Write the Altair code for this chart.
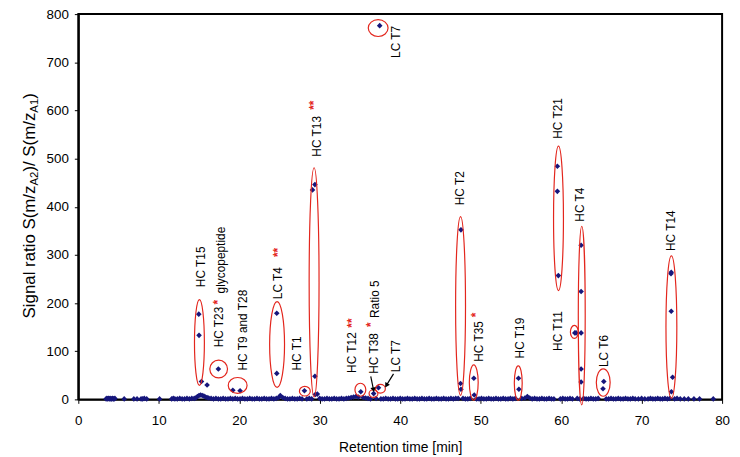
import math
import altair as alt
import pandas as pd

# ---------------- data ----------------
# baseline (unlabelled) peptides: (retention time, ratio)
base_points = [
    (3.45, 1), (3.55, 2), (3.65, 1), (3.75, 2), (3.85, 1), (3.95, 2), (4.05, 1), (4.15, 1),
    (4.25, 2), (4.35, 1), (4.45, 1), (4.55, 2), (5.7, 1), (6.9, 1), (7.3, 1), (7.8, 1),
    (8.0, 1), (8.2, 2), (8.5, 1), (10.1, 1), (11.6, 1), (11.8, 2), (12.0, 1), (12.3, 1),
    (12.6, 2), (12.9, 1), (13.2, 1), (13.5, 2), (13.8, 1), (14.1, 2), (14.4, 2), (14.6, 3),
    (14.8, 6), (15.0, 8), (15.2, 9), (15.4, 8), (15.6, 7), (15.8, 5), (16.0, 4), (16.2, 3),
    (16.5, 2), (16.8, 1), (17.1, 2), (17.4, 1), (17.7, 1), (18.0, 2), (18.3, 1), (18.6, 1),
    (18.9, 2), (19.2, 1), (19.5, 2), (19.8, 1), (20.1, 1), (20.4, 2), (20.7, 1), (21.0, 1),
    (21.3, 2), (21.6, 1), (21.9, 1), (22.2, 2), (22.5, 1), (22.8, 1), (23.1, 2), (23.4, 1),
    (23.7, 1), (24.0, 2), (24.3, 1), (24.6, 2), (24.9, 4), (25.1, 8), (25.4, 4), (25.7, 2),
    (26.0, 1), (26.3, 1), (26.6, 2), (26.9, 1), (27.2, 1), (27.5, 2), (27.8, 1), (28.4, 1),
    (28.7, 2), (29.0, 1), (29.7, 11), (30.0, 2), (30.3, 1), (30.6, 1), (30.9, 2), (31.2, 1),
    (31.5, 1), (31.8, 2), (32.1, 1), (32.4, 1), (32.7, 2), (33.0, 1), (33.3, 2), (33.6, 3),
    (33.9, 4), (34.2, 5), (34.5, 6), (34.8, 5), (35.4, 4), (35.7, 3), (36.0, 2), (36.3, 1),
    (37.0, 2), (37.6, 1), (37.9, 1), (38.2, 2), (38.5, 1), (38.8, 1), (39.1, 2), (39.4, 1),
    (39.7, 1), (40.0, 2), (40.3, 1), (40.6, 1), (40.9, 2), (41.2, 1), (41.5, 1), (41.8, 2),
    (42.1, 1), (42.4, 1), (42.7, 2), (43.0, 1), (43.3, 1), (43.6, 2), (43.9, 1), (44.2, 1),
    (44.5, 2), (44.8, 1), (45.1, 1), (45.4, 2), (45.7, 1), (46.0, 1), (46.3, 2), (46.6, 1),
    (46.9, 2), (47.2, 2), (47.8, 2), (48.1, 1), (48.4, 1), (48.7, 2), (49.5, 1), (49.8, 1),
    (50.1, 2), (50.4, 1), (50.7, 1), (51.0, 2), (51.3, 1), (51.6, 1), (51.9, 2), (52.2, 1),
    (52.5, 1), (52.8, 2), (53.1, 1), (53.4, 1), (53.7, 2), (54.0, 1), (54.3, 2), (55.1, 2),
    (55.5, 3), (55.8, 6), (56.1, 3), (56.4, 1), (56.7, 2), (57.0, 1), (57.3, 1), (57.6, 2),
    (57.9, 1), (58.2, 1), (58.5, 2), (58.8, 1), (59.1, 1), (59.9, 1), (60.2, 2), (60.5, 1),
    (60.8, 1), (61.1, 2), (61.4, 1), (62.0, 2), (62.3, 1), (62.8, 2), (63.1, 1), (63.4, 1),
    (63.7, 2), (64.0, 1), (64.3, 1), (64.6, 2), (65.6, 1), (65.9, 1), (66.2, 2), (66.5, 1),
    (66.8, 1), (67.1, 2), (67.4, 1), (67.7, 1), (68.0, 2), (68.3, 1), (68.6, 1), (68.9, 2),
    (69.2, 1), (69.6, 1), (70.0, 2), (70.4, 1), (70.8, 1), (71.1, 2), (71.4, 1), (71.7, 1),
    (72.0, 2), (72.3, 1), (72.6, 1), (72.9, 2), (73.2, 1), (73.5, 2), (74.1, 1), (74.4, 2),
    (74.8, 1), (75.3, 1), (75.8, 1), (76.5, 1), (77.2, 1), (78.9, 1),
]

# labelled peptide points
peak_time = [14.97, 15.0, 15.3, 16.0, 17.4, 19.2, 20.1, 24.66, 24.66, 28.1,
             29.1, 29.4, 29.4, 29.45, 35.1, 36.7, 37.3, 37.45, 47.55, 47.5,
             47.55, 49.15, 49.2, 54.7, 54.75, 59.53, 59.53, 59.65, 62.48, 62.48,
             62.48, 62.48, 62.48, 61.7, 61.85, 65.3, 65.2, 73.68, 73.65, 73.68,
             73.85, 73.7]
peak_ratio = [177, 133, 37, 30, 63, 19, 18, 179, 54, 18,
              435, 446, 48, 10, 16, 12, 24, 776, 352, 33,
              21, 44, 9, 44, 21, 484, 432, 257, 320, 224,
              138, 63, 36, 138, 138, 37, 22, 264, 261, 183,
              46, 16]

# red ellipses around peptide groups (centre, full width [min], full height [ratio])
ell_time = [15.05, 17.44, 19.8, 24.7, 28.15, 29.3, 35.05, 36.68, 37.54, 37.26,
            47.5, 49.14, 54.67, 59.67, 61.64, 62.56, 65.23, 73.7]
ell_ratio = [118, 63, 29, 114, 17, 243, 20, 12, 22, 771,
             194, 35, 34, 376, 140, 174, 35, 150]
ell_w = [1.23, 2.2, 2.34, 1.85, 1.35, 1.23, 1.35, 1.1, 1.23, 2.46,
         1.23, 1.1, 0.98, 1.23, 0.98, 0.86, 1.72, 1.35]
ell_h = [178, 37, 33, 178, 20, 476, 27, 16, 18, 35,
         371, 73, 71, 300, 27, 371, 57, 296]

# peptide labels (bottom of rotated text)
labels = ["HC T15", "HC T23", "glycopeptide", "HC T9 and T28", "LC T4", "HC T1",
          "HC T13", "HC T12", "HC T38", "Ratio 5", "LC T7", "LC T7", "HC T2",
          "HC T35", "HC T19", "HC T11", "HC T21", "HC T4", "LC T6", "HC T14"]
label_time = [15.26, 17.54, 17.72, 20.5, 24.85, 27.2, 29.66, 34.03, 36.8, 36.92,
              39.5, 39.45, 47.47, 49.8, 54.85, 59.67, 59.63, 62.3, 65.3, 73.64]
label_ratio = [233, 108, 220, 60, 208, 60, 504, 55, 53, 169,
               56.5, 709, 403, 78, 85, 100.6, 541, 369, 67, 308]

# red significance asterisks
ast_text = ["*", "**", "**", "**", "*", "*"]
ast_time = [17.42, 24.81, 29.31, 34.04, 36.41, 49.45]
ast_ratio = [202, 305, 611, 158.6, 155, 175.5]

# arrows (start -> end)
arr_t1 = [36.34, 39.17]
arr_r1 = [48, 53]
arr_t2 = [36.68, 38.28]
arr_r2 = [20, 29]

x_ticks = [0, 10, 20, 30, 40, 50, 60, 70, 80]
y_ticks = [0, 100, 200, 300, 400, 500, 600, 700, 800]

# ---------------- layout ----------------
W, H = 650, 389
XMAX, YMAX = 80, 800
pxm = W / XMAX
pyu = H / YMAX
FONT = "Liberation Sans"
NAVY = "#16167c"
RED = "#e3261d"

xs = alt.Scale(domain=[0, XMAX], nice=False, zero=False)
ys = alt.Scale(domain=[0, YMAX], nice=False, zero=False)

pts = pd.DataFrame({
    "t": [p[0] for p in base_points] + peak_time,
    "r": [p[1] for p in base_points] + peak_ratio,
})

points = alt.Chart(pts).mark_point(shape="diamond", filled=True, size=32, opacity=1).encode(
    x=alt.X("t:Q", scale=xs,
            axis=alt.Axis(values=x_ticks, title="Retention time [min]", labelFlush=False,
                          labelPadding=10, titlePadding=14, tickSize=4)),
    y=alt.Y("r:Q", scale=ys,
            axis=alt.Axis(values=y_ticks, title=None, labelFlush=False,
                          labelPadding=6, tickSize=4)),
    color=alt.value(NAVY),
)

# ellipses as custom-path symbols
K = 0.5523


def ellipse_path(rx, ry):
    return (f"M {-rx:.4f} 0 C {-rx:.4f} {-K*ry:.4f} {-K*rx:.4f} {-ry:.4f} 0 {-ry:.4f} "
            f"C {K*rx:.4f} {-ry:.4f} {rx:.4f} {-K*ry:.4f} {rx:.4f} 0 "
            f"C {rx:.4f} {K*ry:.4f} {K*rx:.4f} {ry:.4f} 0 {ry:.4f} "
            f"C {-K*rx:.4f} {ry:.4f} {-rx:.4f} {K*ry:.4f} {-rx:.4f} 0 Z")


eids, paths, sizes = [], [], []
for i, (w, h) in enumerate(zip(ell_w, ell_h)):
    wp, hp = w * pxm, h * pyu
    s = max(wp, hp)
    eids.append(f"e{i}")
    paths.append(ellipse_path(wp / s, hp / s))
    sizes.append(s * s)

ell_df = pd.DataFrame({"t": ell_time, "r": ell_ratio, "eid": eids, "sz": sizes})
ellipses = alt.Chart(ell_df).mark_point(filled=False, strokeWidth=1.2, opacity=1).encode(
    x=alt.X("t:Q", scale=xs),
    y=alt.Y("r:Q", scale=ys),
    shape=alt.Shape("eid:N", scale=alt.Scale(domain=eids, range=paths), legend=None),
    size=alt.Size("sz:Q", scale=None, legend=None),
    color=alt.value(RED),
)

lab_df = pd.DataFrame({"t": label_time, "r": label_ratio, "txt": labels})
label_layer = alt.Chart(lab_df).mark_text(
    angle=270, align="left", baseline="middle", font=FONT, fontSize=12, color="black"
).encode(x=alt.X("t:Q", scale=xs), y=alt.Y("r:Q", scale=ys), text="txt:N")

ast_df = pd.DataFrame({"t": ast_time, "r": ast_ratio, "txt": ast_text})
ast_layer = alt.Chart(ast_df).mark_text(
    angle=270, align="center", baseline="middle", font=FONT, fontSize=12,
    fontWeight="bold", color=RED
).encode(x=alt.X("t:Q", scale=xs), y=alt.Y("r:Q", scale=ys), text="txt:N")

arr_df = pd.DataFrame({"t1": arr_t1, "r1": arr_r1, "t2": arr_t2, "r2": arr_r2})
arr_df["ang"] = [
    (math.degrees(math.atan2((b - a) * pxm, (d - c) * pyu)) + 360) % 360
    for a, b, c, d in zip(arr_t1, arr_t2, arr_r1, arr_r2)
]
arrow_lines = alt.Chart(arr_df).mark_rule(color="black", strokeWidth=1.2).encode(
    x=alt.X("t1:Q", scale=xs), y=alt.Y("r1:Q", scale=ys), x2="t2:Q", y2="r2:Q"
)
arrow_heads = alt.Chart(arr_df).mark_point(shape="triangle-up", filled=True, size=30,
                                           color="black", opacity=1).encode(
    x=alt.X("t2:Q", scale=xs), y=alt.Y("r2:Q", scale=ys),
    angle=alt.Angle("ang:Q", scale=None),
)

# y axis title with subscripts, composed of text pieces
CW = {'S': 667, 'i': 222, 'g': 556, 'n': 556, 'a': 556, 'l': 222, ' ': 278, 'r': 333,
      't': 278, 'o': 556, '(': 333, 'm': 833, '/': 278, 'z': 500, ')': 333, 'A': 667,
      '1': 556, '2': 556}


def tw(s, f):
    return sum(CW[c] for c in s) / 1000 * f


FT = 17
FS = 11.5
pieces = [("Signal ratio S(m/z", FT, 0), ("A2", FS, 5), (")/ S(m/z", FT, 0),
          ("A1", FS, 5), (")", FT, 0)]
total = sum(tw(s, f) for s, f, _ in pieces)
ycur = (401 - 12) / 2 + 4 + total / 2 - 5
title_layers = []
for s, f, off in pieces:
    title_layers.append(
        alt.Chart(pd.DataFrame({"txt": [s]})).mark_text(
            angle=270, align="left", baseline="middle", font=FONT, fontSize=f, color="black"
        ).encode(x=alt.value(-49 + off), y=alt.value(ycur), text="txt:N")
    )
    ycur -= tw(s, f)

chart = alt.layer(
    points, ellipses, label_layer, ast_layer, arrow_lines, arrow_heads, *title_layers
).properties(
    width=W, height=H,
    autosize=alt.AutoSizeParams(type="none"),
    padding={"left": 71, "top": 4, "right": 10, "bottom": 55},
).configure_view(
    stroke="black", strokeWidth=2
).configure_axis(
    domainColor="black", domainWidth=2, tickColor="black", tickWidth=1,
    labelFont=FONT, labelFontSize=13.5, labelColor="black", grid=False,
    titleFont=FONT, titleFontSize=14, titleFontWeight="normal", titleColor="black",
)

chart.save("out.html", embed_options={"renderer": "svg", "actions": False})
